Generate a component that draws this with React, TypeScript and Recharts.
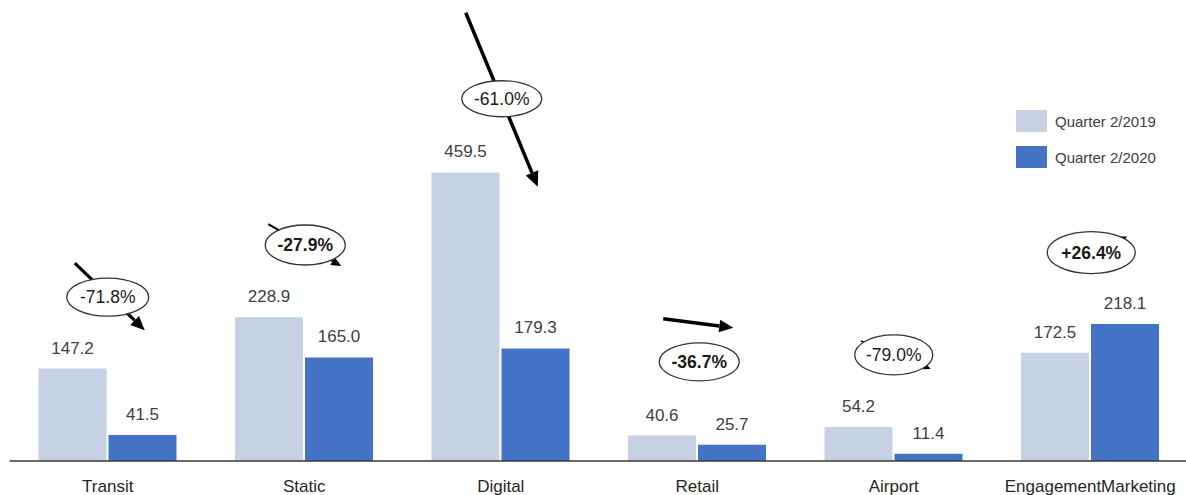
import React from 'react';
import { BarChart, Bar, XAxis, YAxis, LabelList, Legend, ReferenceDot } from 'recharts';

const categories = ['Transit', 'Static', 'Digital', 'Retail', 'Airport', 'EngagementMarketing'];
const q2019 = [147.2, 228.9, 459.5, 40.6, 54.2, 172.5];
const q2020 = [41.5, 165.0, 179.3, 25.7, 11.4, 218.1];
const changeLabels = ['-71.8%', '-27.9%', '-61.0%', '-36.7%', '-79.0%', '+26.4%'];
// value level (data units) where each change bubble sits
const bubbleLevels = [261, 344, 577, 158, 169, 332];

const chartData = categories.map((name, i) => ({ name, q2019: q2019[i], q2020: q2020[i] }));

const FONT = '"Liberation Sans", Arial, sans-serif';
const LIGHT = '#C6D1E4';
const BLUE = '#4472C4';

// bubble / arrow drawing, px relative to the bubble centre
const bubbleStyle = [
  { dx: 0, rx: 41, ry: 19, bold: false, arrow: { x1: -33, y1: -34, x2: 37, y2: 33, w: 3.2, head: 14 } },
  { dx: 1, rx: 40, ry: 20, bold: true, arrow: { x1: -37, y1: -21, x2: 36, y2: 21, w: 2, head: 10 } },
  { dx: 1, rx: 40, ry: 18, bold: false, arrow: { x1: -36, y1: -86, x2: 36, y2: 88, w: 3.5, head: 15 } },
  { dx: 2, rx: 40, ry: 19, bold: true, arrow: { x1: -36, y1: -43, x2: 34, y2: -34, w: 3.5, head: 14 } },
  { dx: 0, rx: 39, ry: 20, bold: false, arrow: { x1: -33, y1: -14, x2: 37, y2: 14, w: 1.5, head: 7 } },
  { dx: 1, rx: 44, ry: 21, bold: true, arrow: { x1: -25, y1: 10, x2: 36, y2: -16, w: 1.5, head: 8 } },
];

const makeBubble = (i: number) => (props: any) => {
  const { cx, cy } = props;
  const s = bubbleStyle[i];
  const x = cx + s.dx;
  const a = s.arrow;
  const ang = Math.atan2(a.y2 - a.y1, a.x2 - a.x1);
  const tx = x + a.x2;
  const ty = cy + a.y2;
  const bx = tx - a.head * Math.cos(ang);
  const by = ty - a.head * Math.sin(ang);
  const hw = a.head * 0.45;
  const p1 = `${bx + hw * Math.sin(ang)},${by - hw * Math.cos(ang)}`;
  const p2 = `${bx - hw * Math.sin(ang)},${by + hw * Math.cos(ang)}`;
  return (
    <g>
      <line x1={x + a.x1} y1={cy + a.y1} x2={bx} y2={by} stroke="#000" strokeWidth={a.w} />
      <polygon points={`${tx},${ty} ${p1} ${p2}`} fill="#000" />
      <ellipse cx={x} cy={cy} rx={s.rx} ry={s.ry} fill="#fff" stroke="#333" strokeWidth={1.3} />
      <text
        x={x}
        y={cy}
        dy={6}
        textAnchor="middle"
        fontFamily={FONT}
        fontSize={17.5}
        fontWeight={s.bold ? 'bold' : 'normal'}
        fill="#1a1a1a"
      >
        {changeLabels[i]}
      </text>
    </g>
  );
};

const legendItems = [
  { label: 'Quarter 2/2019', color: LIGHT },
  { label: 'Quarter 2/2020', color: BLUE },
];

const renderLegend = () => (
  <div style={{ fontFamily: FONT, fontSize: 15, color: '#404040' }}>
    {legendItems.map((it) => (
      <div key={it.label} style={{ display: 'flex', alignItems: 'center', height: 36 }}>
        <span style={{ display: 'inline-block', width: 31, height: 22, background: it.color, marginRight: 8 }} />
        {it.label}
      </div>
    ))}
  </div>
);

const fmt = (v: any) => Number(v).toFixed(1);

export default function App() {
  return (
    <div style={{ position: 'absolute', left: 0, top: 0, width: 1186, height: 495, overflow: 'hidden', background: '#fff' }}>
      <BarChart
        width={1190}
        height={495}
        data={chartData}
        margin={{ top: 21.5, right: 1.5, left: 9.5, bottom: 4 }}
        barSize={68}
        barGap={2}
      >
        <XAxis
          dataKey="name"
          axisLine={{ stroke: '#3a3a3a', strokeWidth: 1.6 }}
          tickLine={false}
          tickSize={6}
          tickMargin={13}
          height={30}
          interval={0}
          tick={{ fontFamily: FONT, fontSize: 17, fill: '#262626' }}
        />
        <YAxis hide domain={[0, 700]} />
        <Legend
          layout="vertical"
          align="center"
          verticalAlign="middle"
          content={renderLegend}
          wrapperStyle={{ top: 103, left: 1016, width: 165 }}
        />
        <Bar dataKey="q2019" fill={LIGHT} isAnimationActive={false}>
          <LabelList
            dataKey="q2019"
            position="top"
            offset={15}
            formatter={fmt}
            style={{ fontFamily: FONT, fontSize: 17, fill: '#404040' }}
          />
        </Bar>
        <Bar dataKey="q2020" fill={BLUE} isAnimationActive={false}>
          <LabelList
            dataKey="q2020"
            position="top"
            offset={15}
            formatter={fmt}
            style={{ fontFamily: FONT, fontSize: 17, fill: '#404040' }}
          />
        </Bar>
        {categories.map((c, i) => (
          <ReferenceDot key={c} x={c} y={bubbleLevels[i]} r={0} shape={makeBubble(i)} ifOverflow="visible" />
        ))}
      </BarChart>
    </div>
  );
}
